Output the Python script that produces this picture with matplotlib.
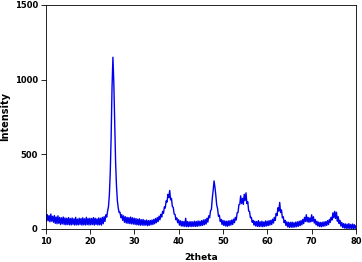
import numpy as np
import matplotlib
matplotlib.use("Agg")
import matplotlib.pyplot as plt

# ===================== DATA (0.2 deg steps) =====================

two_theta_start = 10.0
two_theta_step = 0.2

counts_10_20 = [102, 52, 96, 55, 90, 48, 100, 52, 85, 45,
                90, 38, 80, 35, 88, 38, 78, 30, 75, 34,
                80, 30, 74, 28, 72, 30, 76, 28, 70, 27,
                74, 30, 68, 26, 78, 28, 66, 27, 72, 30,
                70, 26, 75, 28, 68, 27, 78, 29, 70, 27]
counts_20_30 = [72, 28, 70, 30, 76, 26, 72, 30, 68, 27,
                74, 28, 72, 26, 78, 35, 82, 50, 95, 80,
                120, 150, 230, 380, 620, 950, 1150, 980, 700, 450,
                290, 190, 140, 110, 112, 75, 96, 58, 88, 45,
                82, 40, 78, 38, 76, 36, 80, 34, 75, 33]
counts_30_40 = [72, 30, 70, 28, 66, 27, 68, 25, 62, 26,
                64, 24, 58, 26, 60, 22, 56, 25, 58, 28,
                60, 30, 64, 35, 70, 42, 76, 50, 86, 62,
                98, 80, 118, 105, 148, 140, 188, 180, 232, 210,
                258, 195, 205, 150, 145, 100, 98, 62, 74, 42]
counts_40_50 = [62, 26, 55, 20, 52, 18, 50, 17, 72, 16,
                50, 15, 48, 17, 50, 16, 48, 18, 52, 17,
                50, 18, 54, 20, 52, 22, 56, 24, 60, 28,
                64, 33, 72, 46, 88, 75, 122, 130, 205, 260,
                322, 280, 225, 160, 135, 85, 92, 50, 64, 30]
counts_50_60 = [58, 24, 54, 20, 52, 18, 54, 22, 56, 26,
                60, 30, 66, 42, 78, 60, 108, 110, 162, 165,
                222, 170, 205, 165, 232, 190, 242, 170, 182, 120,
                118, 75, 78, 45, 58, 26, 52, 20, 50, 17,
                56, 16, 48, 17, 52, 15, 47, 18, 54, 20]
counts_60_70 = [52, 22, 56, 26, 58, 30, 66, 40, 78, 58,
                104, 90, 142, 120, 178, 110, 128, 75, 82, 42,
                58, 24, 48, 14, 45, 10, 44, 12, 46, 11,
                42, 13, 46, 15, 48, 18, 52, 22, 56, 28,
                64, 36, 78, 50, 95, 48, 78, 45, 74, 48]
counts_70_80 = [95, 52, 82, 40, 64, 28, 52, 20, 46, 16,
                44, 15, 45, 18, 48, 20, 50, 24, 56, 30,
                64, 44, 78, 60, 108, 75, 118, 70, 112, 52,
                82, 36, 58, 20, 44, 10, 36, 6, 34, 4,
                32, 3, 36, 4, 30, 2, 33, 3, 30, 2,
                22]

x_ticks = [10, 20, 30, 40, 50, 60, 70, 80]
y_ticks = [0, 500, 1000, 1500]

intensity = np.array(counts_10_20 + counts_20_30 + counts_30_40 + counts_40_50
                     + counts_50_60 + counts_60_70 + counts_70_80, dtype=float)
two_theta = two_theta_start + two_theta_step * np.arange(len(intensity))

# ===================== PLOT =====================

plt.rcParams["font.family"] = ["DejaVu Sans"]

fig = plt.figure(figsize=(3.62, 2.62), dpi=100)
ax = fig.add_axes([0.1257, 0.126, 0.8577, 0.855])

ax.plot(two_theta, intensity, color="#0000ee", linewidth=1.0)

ax.set_xlim(10, 80)
ax.set_ylim(0, 1500)
ax.set_xticks(x_ticks)
ax.set_yticks(y_ticks)
ax.tick_params(direction="out", length=3.5, width=0.6, labelsize=6,
               top=False, right=False, pad=2)
for lab in ax.get_xticklabels() + ax.get_yticklabels():
    lab.set_fontweight("bold")
for s in ax.spines.values():
    s.set_linewidth(0.6)

ax.set_xlabel("2theta", fontsize=6.5, fontweight="bold", va="baseline")
ax.xaxis.set_label_coords(0.5, -0.138)
ax.set_ylabel("Intensity", fontsize=7, fontweight="bold")
ax.yaxis.set_label_coords(-0.1143, 0.5)

fig.savefig("out.png", dpi=100)
